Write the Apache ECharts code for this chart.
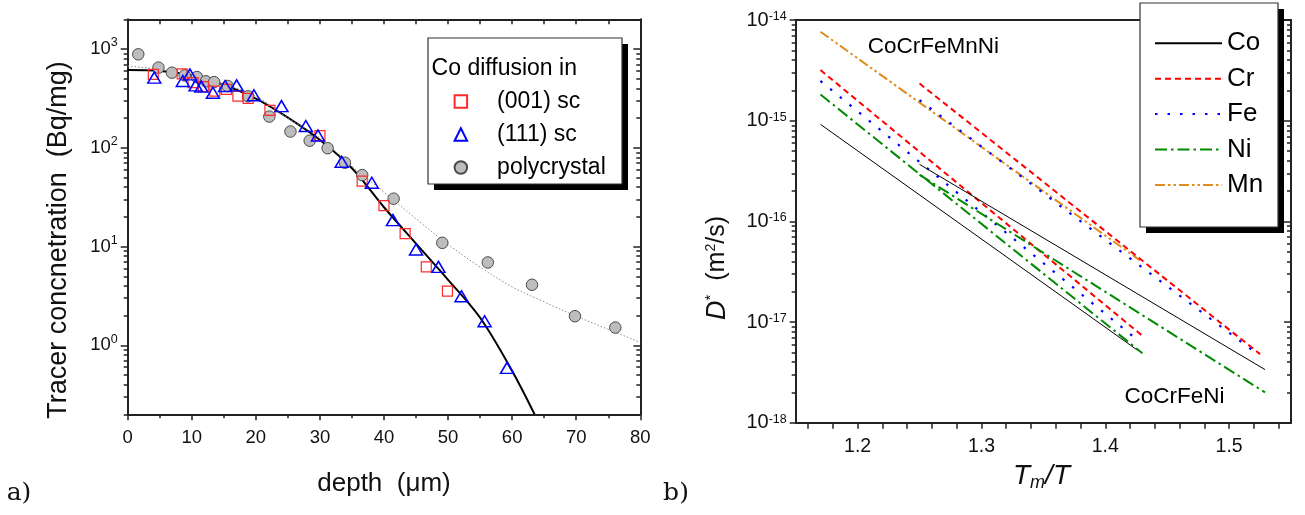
<!DOCTYPE html>
<html><head><meta charset="utf-8">
<script src="https://cdn.jsdelivr.net/npm/echarts@6.0.0/dist/echarts.min.js"></script>
<style>html,body{margin:0;padding:0;background:#fff}#c{width:1305px;height:515px}</style>
</head><body><div id="c"></div>
<script>
// ---------- Panel a data ----------
const depthPoly = [1.65, 4.8, 6.9, 8.9, 10.8, 12.2, 13.5, 15.6, 18.8, 22.1, 25.4, 28.4, 31.2, 33.9, 36.6, 41.5, 49.1, 56.2, 63.1, 69.8, 76.1];
const concPoly  = [884, 648, 576, 541, 520, 471, 463, 422, 332, 207, 146, 118, 99, 70.6, 52.9, 30.5, 10.9, 6.9, 4.1, 1.97, 1.51];
const depth001 = [4.0, 8.5, 10.2, 11.8, 13.6, 15.4, 17.2, 18.8, 22.2, 30.0, 36.6, 40.0, 43.3, 46.6, 49.9];
const conc001  = [554, 560, 456, 416, 375, 390, 334, 316, 239, 133, 45.9, 26, 13.5, 6.23, 3.53];
const depth111 = [4.15, 8.6, 9.7, 10.6, 11.5, 13.3, 15.2, 17.0, 19.7, 24.0, 27.8, 29.7, 33.4, 38.1, 41.4, 45.0, 48.5, 52.1, 55.7, 59.2];
const conc111  = [513, 474, 553, 429, 416, 361, 422, 429, 340, 264, 166, 133, 72.2, 44.3, 18.5, 9.33, 6.23, 3.14, 1.75, 0.59];
const fitScDepth = [0, 5, 10, 15, 20, 25, 30, 35, 40, 45, 50, 55, 60, 63.5];
const fitScConc  = [612, 600, 541, 435, 314, 202, 120, 62, 25, 10.7, 4.6, 1.9, 0.55, 0.2];
const fitPolyDepth = [0, 5, 10, 15, 20, 25, 30, 35, 40, 45, 50, 55, 60, 65, 70, 75, 80];
const fitPolyConc  = [673, 622, 541, 439, 334, 200, 126, 65, 35.5, 19.1, 10.5, 6.2, 3.9, 2.75, 1.97, 1.45, 1.07];
const depthTicks = [0, 10, 20, 30, 40, 50, 60, 70, 80];
const concDecades = [1, 10, 100, 1000];

// ---------- Panel b data (T_m/T , D*) ----------
const elements = ['Co', 'Cr', 'Fe', 'Ni', 'Mn'];
const coMnX = [1.170, 1.426], coMnD = [9.2e-16, 5.25e-18];
const crMnX = [1.170, 1.430], crMnD = [3.18e-15, 7.3e-18];
const feMnX = [1.170, 1.423], feMnD = [2.48e-15, 7.1e-18];
const niMnX = [1.170, 1.430], niMnD = [1.82e-15, 4.9e-18];
const mnMnX = [1.170, 1.428], mnMnD = [7.65e-15, 4.1e-17];
const coX = [1.250, 1.529], coD = [3.68e-16, 3.37e-18];
const crX = [1.250, 1.525], crD = [2.34e-15, 4.8e-18];
const feX = [1.250, 1.522], feD = [1.6e-15, 4.9e-18];
const niX = [1.250, 1.529], niD = [2.9e-16, 2.0e-18];
const tmTLabels = [1.2, 1.3, 1.4, 1.5];
const dDecades = [1e-18, 1e-17, 1e-16, 1e-15, 1e-14];

// ---------- helpers ----------
const FONT = "'Liberation Sans', Arial, sans-serif";
const pair = (xs, ys) => xs.map((x, i) => [x, ys[i]]);
function minorLog(lo, hi, kFrom, kTo) {
  const out = [];
  for (let k = kFrom; k <= kTo; k++) for (let m = 2; m <= 9; m++) {
    const v = parseFloat(m + 'e' + k);
    if (v >= lo * 0.999 && v <= hi * 1.001) out.push(v);
  }
  return out;
}
const aMinor = minorLog(0.2, 2000, -1, 3);
const bMinor = minorLog(1e-18, 1e-14, -18, -15);
const bXTicks = [];
for (let i = 58; i <= 77; i++) bXTicks.push(+(i * 0.02).toFixed(2));
const AX = '#222';
const powFmt = v => '{b|10}{s|' + Math.round(Math.log10(v)) + '}';

function logAxis(grid, min, max, pos, opts) {
  return Object.assign({
    type: 'log', logBase: 10, gridIndex: grid, min: min, max: max, position: pos,
    splitLine: { show: false },
    axisLine: { show: false, lineStyle: { color: AX, width: 2 } },
    axisTick: { show: true, lineStyle: { color: AX, width: 1.5 } },
    axisLabel: { show: false }
  }, opts);
}

const chart = echarts.init(document.getElementById('c'), null, { renderer: 'canvas' });
const option = {
  animation: false,
  backgroundColor: '#fff',
  textStyle: { fontFamily: FONT, color: '#000' },
  grid: [
    { left: 127.7, top: 19.3, width: 512.6, height: 395 },
    { left: 795.7, top: 20, width: 495.3, height: 402.7 }
  ],
  xAxis: [
    { type: 'value', gridIndex: 0, min: 0, max: 80, interval: 10, position: 'bottom',
      splitLine: { show: false },
      axisLine: { lineStyle: { color: AX, width: 2 } },
      axisTick: { length: 6, lineStyle: { color: AX, width: 1.5 } },
      minorTick: { show: true, splitNumber: 2, length: 4, lineStyle: { color: AX, width: 1.5 } },
      axisLabel: { fontSize: 18.5, margin: 14, color: '#111', fontFamily: FONT },
      name: 'depth  (μm)', nameLocation: 'middle', nameGap: 57,
      nameTextStyle: { fontSize: 26, color: '#111', fontFamily: FONT } },
    { type: 'value', gridIndex: 0, min: 0, max: 80, interval: 5, position: 'top',
      splitLine: { show: false },
      axisLine: { lineStyle: { color: AX, width: 2 } },
      axisTick: { inside: true, length: 5, lineStyle: { color: AX, width: 1.5 } },
      axisLabel: { show: false } },
    { type: 'value', gridIndex: 1, min: 1.15, max: 1.55, position: 'bottom',
      splitLine: { show: false },
      axisLine: { lineStyle: { color: AX, width: 2 } },
      axisTick: { length: 6, customValues: bXTicks, lineStyle: { color: AX, width: 1.5 } },
      axisLabel: { customValues: tmTLabels, fontSize: 19.5, margin: 14, color: '#111', fontFamily: FONT,
                   formatter: v => Number(v).toFixed(1) } },
    { type: 'value', gridIndex: 1, min: 1.15, max: 1.55, position: 'top',
      splitLine: { show: false },
      axisLine: { lineStyle: { color: AX, width: 2 } },
      axisTick: { show: false }, axisLabel: { show: false } }
  ],
  yAxis: [
    logAxis(0, 0.2, 2000, 'left', {
      axisLine: { show: true, lineStyle: { color: AX, width: 2 } },
      axisTick: { length: 7, customValues: concDecades, lineStyle: { color: AX, width: 1.5 } },
      axisLabel: { show: true, customValues: concDecades, margin: 10, formatter: powFmt,
        rich: { b: { fontSize: 18.5, fontFamily: FONT, color: '#111' },
                s: { fontSize: 12.5, fontFamily: FONT, color: '#111', padding: [0, 0, 12, 0] } } } }),
    logAxis(0, 0.2, 2000, 'left', {
      axisTick: { length: 4, customValues: aMinor, lineStyle: { color: AX, width: 1.5 } } }),
    logAxis(0, 0.2, 2000, 'right', {
      axisLine: { show: true, lineStyle: { color: AX, width: 2 } },
      axisTick: { inside: true, length: 7, customValues: concDecades, lineStyle: { color: AX, width: 1.5 } } }),
    logAxis(0, 0.2, 2000, 'right', {
      axisTick: { inside: true, length: 4, customValues: aMinor, lineStyle: { color: AX, width: 1.5 } } }),
    logAxis(1, 1e-18, 1e-14, 'left', {
      axisLine: { show: true, lineStyle: { color: AX, width: 2 } },
      axisTick: { length: 6, customValues: dDecades, lineStyle: { color: AX, width: 1.5 } },
      axisLabel: { show: true, customValues: dDecades, margin: 9, formatter: powFmt,
        rich: { b: { fontSize: 20, fontFamily: FONT, color: '#111' },
                s: { fontSize: 12.5, fontFamily: FONT, color: '#111', padding: [0, 0, 7, 0] } } } }),
    logAxis(1, 1e-18, 1e-14, 'left', {
      axisTick: { length: 4, customValues: bMinor, lineStyle: { color: AX, width: 1.5 } } }),
    logAxis(1, 1e-18, 1e-14, 'right', {
      axisLine: { show: true, lineStyle: { color: AX, width: 2 } },
      axisTick: { inside: true, length: 7, customValues: dDecades, lineStyle: { color: AX, width: 1.5 } } }),
    logAxis(1, 1e-18, 1e-14, 'right', {
      axisTick: { inside: true, length: 4, customValues: bMinor, lineStyle: { color: AX, width: 1.5 } } })
  ],
  legend: [
    { data: ['(001) sc', '(111) sc', 'polycrystal'], orient: 'vertical',
      left: 453.6, top: 38, padding: [52, 0, 0, 0], itemWidth: 12.5, itemHeight: 12.5, itemGap: 10,
      selectedMode: false, z: 6,
      textStyle: { fontSize: 23, fontFamily: FONT, color: '#000', padding: [0, 0, 0, 25] } },
    { data: elements, orient: 'vertical',
      left: 1154, top: 3, padding: [27.3, 0, 0, 0], itemWidth: 67, itemHeight: 14, itemGap: 9.4,
      selectedMode: false, z: 6, itemStyle: { opacity: 0 },
      textStyle: { fontSize: 26, fontFamily: FONT, color: '#000' } }
  ],
  series: [
    { type: 'line', name: 'fit sc', xAxisIndex: 0, yAxisIndex: 0, data: pair(fitScDepth, fitScConc),
      smooth: 0.35, symbol: 'none', lineStyle: { color: '#000', width: 2 }, z: 2 },
    { type: 'line', name: 'fit poly', xAxisIndex: 0, yAxisIndex: 0, data: pair(fitPolyDepth, fitPolyConc),
      smooth: 0.35, symbol: 'none', lineStyle: { color: '#8a8a8a', width: 1, type: [1.5, 2] }, z: 2 },
    { type: 'scatter', name: 'polycrystal', xAxisIndex: 0, yAxisIndex: 0, data: pair(depthPoly, concPoly),
      symbol: 'circle', symbolSize: 11.5,
      itemStyle: { color: '#bdbdbd', borderColor: '#4a4a4a', borderWidth: 1, opacity: 1 }, z: 3 },
    { type: 'scatter', name: '(001) sc', xAxisIndex: 0, yAxisIndex: 0, data: pair(depth001, conc001),
      symbol: 'rect', symbolSize: 10,
      itemStyle: { color: 'transparent', borderColor: '#ff2a2a', borderWidth: 1.2, opacity: 1 }, z: 4 },
    { type: 'scatter', name: '(111) sc', xAxisIndex: 0, yAxisIndex: 0, data: pair(depth111, conc111),
      symbol: 'triangle', symbolSize: [13, 11],
      itemStyle: { color: 'transparent', borderColor: '#0000ff', borderWidth: 1.5, opacity: 1 }, z: 4 },

    ...[
      ['Co', coMnX, coMnD], ['Cr', crMnX, crMnD], ['Fe', feMnX, feMnD], ['Ni', niMnX, niMnD], ['Mn', mnMnX, mnMnD],
      ['Co', coX, coD], ['Cr', crX, crD], ['Fe', feX, feD], ['Ni', niX, niD]
    ].map(([nm, xs, ys]) => {
      const st = {
        Co: { color: '#000', width: 1, type: 'solid' },
        Cr: { color: '#ff0000', width: 2, type: [6, 4] },
        Fe: { color: '#0000ff', width: 2.2, type: [2.5, 10] },
        Ni: { color: '#008a00', width: 2, type: [12, 4, 2.5, 4] },
        Mn: { color: '#e08c1e', width: 2, type: [10, 3, 2.5, 3, 2.5, 3] }
      }[nm];
      return { type: 'line', name: nm, xAxisIndex: 2, yAxisIndex: 4, data: pair(xs, ys),
        symbol: 'none', itemStyle: { color: st.color }, lineStyle: st, z: 2 };
    })
  ],
  graphic: [
    { type: 'rect', z: 5, shape: { x: 434, y: 44, width: 194, height: 146 }, style: { fill: '#000' } },
    { type: 'rect', z: 5, shape: { x: 428, y: 38, width: 194, height: 146 }, style: { fill: '#fff', stroke: '#333', lineWidth: 1.2 } },
    { type: 'text', z: 7, x: 431.6, y: 69, style: { text: 'Co diffusion in', fontSize: 23, fontFamily: FONT, fill: '#000', align: 'left', verticalAlign: 'middle' } },
    { type: 'rect', z: 5, shape: { x: 1146, y: 9, width: 138, height: 224 }, style: { fill: '#000' } },
    { type: 'rect', z: 5, shape: { x: 1140, y: 3, width: 138, height: 224 }, style: { fill: '#fff', stroke: '#333', lineWidth: 1.2 } },
    { type: 'text', z: 7, x: 59, y: 240, rotation: Math.PI / 2,
      style: { text: 'Tracer concnetration  (Bq/mg)', fontSize: 27, fontFamily: FONT, fill: '#111', align: 'center', verticalAlign: 'middle' } },
    { type: 'text', z: 7, x: 717, y: 268, rotation: Math.PI / 2,
      style: { text: '{d|D}{st|*}{p|  (m}{s2|2}{p|/s)}', align: 'center', verticalAlign: 'middle', fill: '#111',
        rich: { d: { fontSize: 27, fontStyle: 'italic', fontFamily: FONT, fill: '#111' },
                st: { fontSize: 15, fontFamily: FONT, padding: [0, 0, 12, 0], fill: '#111' },
                p: { fontSize: 25, fontFamily: FONT, fill: '#111' },
                s2: { fontSize: 14, fontFamily: FONT, padding: [0, 0, 12, 0], fill: '#111' } } } },
    { type: 'text', z: 7, x: 1041.5, y: 476,
      style: { text: '{t|T}{m|m}{t|/T}', align: 'center', verticalAlign: 'middle', fill: '#111',
        rich: { t: { fontSize: 28, fontStyle: 'italic', fontFamily: FONT, fill: '#111' },
                m: { fontSize: 18, fontStyle: 'italic', fontFamily: FONT, padding: [14, 0, 0, 0], fill: '#111' } } } },
    { type: 'text', z: 7, x: 933.3, y: 46.7, style: { text: 'CoCrFeMnNi', fontSize: 22.5, fontFamily: FONT, fill: '#000', align: 'center', verticalAlign: 'middle' } },
    { type: 'text', z: 7, x: 1174.5, y: 396.7, style: { text: 'CoCrFeNi', fontSize: 22.5, fontFamily: FONT, fill: '#000', align: 'center', verticalAlign: 'middle' } },
    { type: 'text', z: 7, x: 19, y: 493, style: { text: 'a)', fontSize: 25, fontFamily: "'DejaVu Serif', 'Liberation Serif', serif", fill: '#111', align: 'center', verticalAlign: 'middle' } },
    { type: 'text', z: 7, x: 676, y: 493, style: { text: 'b)', fontSize: 25, fontFamily: "'DejaVu Serif', 'Liberation Serif', serif", fill: '#111', align: 'center', verticalAlign: 'middle' } }
  ]
};
chart.setOption(option);
</script></body></html>
